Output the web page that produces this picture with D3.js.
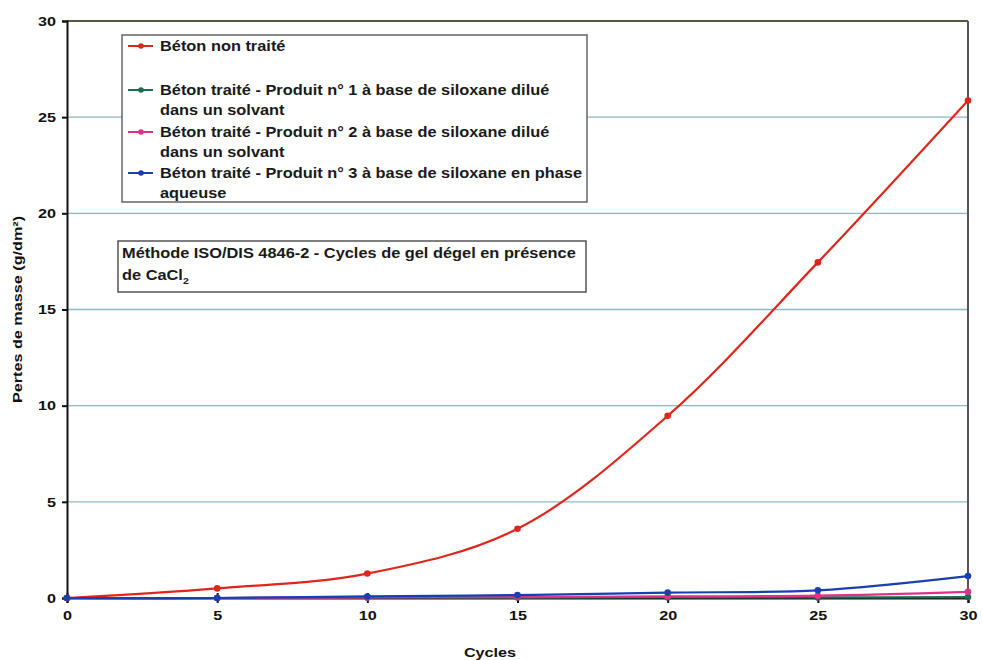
<!DOCTYPE html>
<html>
<head>
<meta charset="utf-8">
<script src="https://cdn.jsdelivr.net/npm/d3@7"></script>
<style>
  body { margin: 0; background: #fff; }
  text { font-family: "Liberation Sans", Arial, sans-serif; font-weight: bold; }
</style>
</head>
<body>
<svg id="chart" width="982" height="660"></svg>
<script>
const cycles = [0, 5, 10, 15, 20, 25, 30];
const nonTraite = [0, 0.5, 1.27, 3.6, 9.47, 17.45, 25.87];
const produit1 = [0, 0, 0.02, 0.02, 0.03, 0.03, 0.05];
const produit2 = [0, 0, 0.03, 0.05, 0.08, 0.12, 0.32];
const produit3 = [0, 0, 0.08, 0.15, 0.28, 0.4, 1.14];
const xTicks = [0, 5, 10, 15, 20, 25, 30];
const yTicks = [0, 5, 10, 15, 20, 25, 30];

const series = [
  { name: "Béton non traité", values: nonTraite, color: "#e0261c" },
  { name: "Béton traité - Produit n° 1 à base de siloxane dilué|dans un solvant", values: produit1, color: "#1e6a52" },
  { name: "Béton traité - Produit n° 2 à base de siloxane dilué|dans un solvant", values: produit2, color: "#e0308a" },
  { name: "Béton traité - Produit n° 3 à base de siloxane en phase|aqueuse", values: produit3, color: "#1a3fb0" }
];

const svg = d3.select("#chart");
const pLeft = 67, pRight = 968, pTop = 21, pBottom = 598;
const sx = 1.2;   // the scan's type is stretched sideways
const sxBox = 1.17;

const x = d3.scaleLinear().domain([0, 30]).range([pLeft, pRight]);
const y = d3.scaleLinear().domain([0, 30]).range([pBottom, pTop]);

function label(g, tx, ty, str, size) {
  return g.append("text")
    .attr("transform", `translate(${tx},${ty}) scale(${sxBox},1)`)
    .attr("font-size", size).attr("fill", "#1a1a1a").text(str);
}

// gridlines
svg.append("g")
  .selectAll("line")
  .data(yTicks.filter(d => d > 0 && d < 30))
  .join("line")
  .attr("x1", pLeft).attr("x2", pRight)
  .attr("y1", d => y(d)).attr("y2", d => y(d))
  .attr("stroke", "#8cb8c8").attr("stroke-width", 1.3);

// top and right borders
svg.append("line").attr("x1", pLeft).attr("x2", pRight).attr("y1", pTop).attr("y2", pTop)
  .attr("stroke", "#555a3a").attr("stroke-width", 2);
svg.append("line").attr("x1", pRight).attr("x2", pRight).attr("y1", pTop).attr("y2", pBottom)
  .attr("stroke", "#555").attr("stroke-width", 2);

// axes
const yAxis = svg.append("g").attr("transform", `translate(${pLeft},0)`)
  .call(d3.axisLeft(y).tickValues(yTicks).tickSize(5).tickPadding(5));
const xAxis = svg.append("g").attr("transform", `translate(0,${pBottom})`)
  .call(d3.axisBottom(x).tickValues(xTicks).tickSize(5).tickPadding(7));
[yAxis, xAxis].forEach(a => {
  a.select(".domain").attr("stroke", "#111").attr("stroke-width", 2);
  a.selectAll(".tick line").attr("stroke", "#111").attr("stroke-width", 2);
  a.selectAll("text").attr("font-size", 13.5).attr("fill", "#111")
    .attr("font-family", "Liberation Sans, Arial, sans-serif").attr("font-weight", "bold");
});
xAxis.selectAll(".tick line").attr("y1", -5);
xAxis.selectAll(".tick text").attr("transform", `scale(${sx},1)`);
yAxis.selectAll(".tick text").attr("x", -11 / sx).attr("transform", `scale(${sx},1)`);

// lines
const line = d3.line()
  .x((d, i) => x(cycles[i]))
  .y(d => y(d))
  .curve(d3.curveCatmullRom.alpha(0.5));

series.forEach(s => {
  svg.append("path").datum(s.values)
    .attr("d", line).attr("fill", "none")
    .attr("stroke", s.color).attr("stroke-width", 2.2);
  svg.append("g").selectAll("circle").data(s.values).join("circle")
    .attr("cx", (d, i) => x(cycles[i])).attr("cy", d => y(d))
    .attr("r", 3.3).attr("fill", s.color);
});

// legend
const lg = svg.append("g");
lg.append("rect").attr("x", 122).attr("y", 35).attr("width", 465).attr("height", 167)
  .attr("fill", "#fff").attr("stroke", "#666").attr("stroke-width", 1.5);
const legendY = [46, 90, 132, 173];
series.forEach((s, i) => {
  const ly = legendY[i];
  lg.append("line").attr("x1", 128).attr("x2", 153).attr("y1", ly).attr("y2", ly)
    .attr("stroke", s.color).attr("stroke-width", 2);
  lg.append("circle").attr("cx", 141).attr("cy", ly).attr("r", 2.8).attr("fill", s.color);
  s.name.split("|").forEach((t, j) => {
    label(lg, 160, ly + 5 + j * 20, t, 14);
  });
});

// method note
const nb = svg.append("g");
nb.append("rect").attr("x", 118).attr("y", 241).attr("width", 468).attr("height", 51)
  .attr("fill", "#fff").attr("stroke", "#555").attr("stroke-width", 1.5);
label(nb, 122, 258, "Méthode ISO/DIS 4846-2 - Cycles de gel dégel en présence", 14);
const t2 = label(nb, 122, 280, "", 14);
t2.append("tspan").text("de CaCl");
t2.append("tspan").attr("font-size", 9).attr("dy", 4).text("2");

// axis titles
svg.append("text").attr("transform", `translate(22,${(pTop + pBottom) / 2}) rotate(-90) scale(${sx},1)`)
  .attr("text-anchor", "middle").attr("font-size", 13.5).attr("fill", "#111")
  .text("Pertes de masse (g/dm²)");
svg.append("text").attr("transform", `translate(490,657) scale(${sx},1)`).attr("text-anchor", "middle")
  .attr("font-size", 13.5).attr("fill", "#111").text("Cycles");
</script>
</body>
</html>
